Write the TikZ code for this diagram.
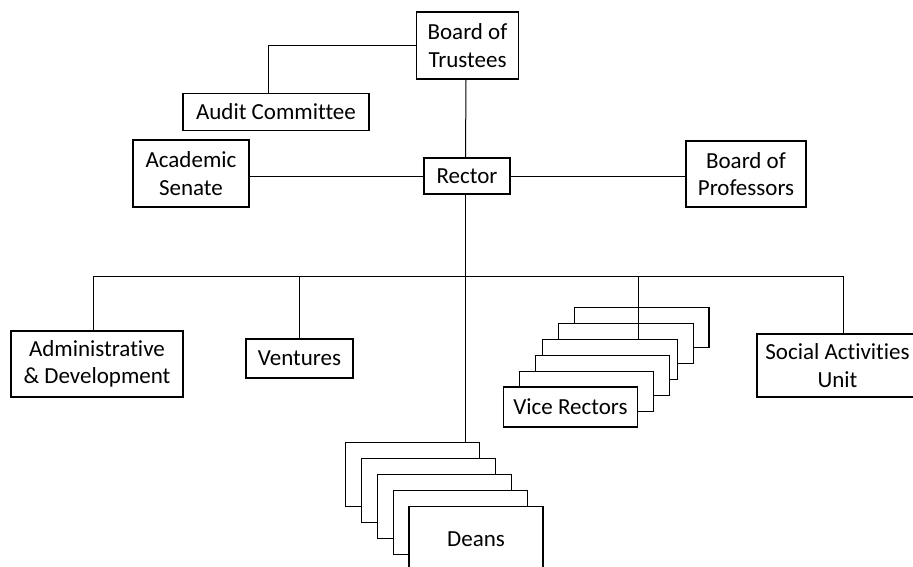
\documentclass[tikz,border=0pt]{standalone}
\usepackage{fontspec}
\setmainfont{Carlito}[Ligatures={NoCommon}]
\usepackage{tikz}
\usetikzlibrary{positioning}

\begin{document}
\begin{tikzpicture}[x=1pt,y=-1pt,line width=1pt,
                    every node/.style={font=\fontsize{23}{27.5}\selectfont}]
  \tikzstyle{box}=[draw,fill=white,align=center,inner sep=0pt,line width=1.2pt]

  \useasboundingbox (0,0) rectangle (913,566);

  \node[box,minimum width=102,minimum height=67] (trustees) at (467.5,45.5) {Board of\\Trustees};
  \node[box,minimum width=186,minimum height=37] (audit) at (276,112) {Audit Committee};
  \node[box,minimum width=86,minimum height=36] (rector) at (467,176) {Rector};
  \node[box,minimum width=116,minimum height=67] (senate) at (191,173.5) {Academic\\Senate};
  \node[box,minimum width=120,minimum height=66] (professors) at (746,174) {Board of\\Professors};

  \node[box,minimum width=172,minimum height=66] (admin) at (97,364) {Administrative\\\& Development};
  \node[box,minimum width=107,minimum height=39] (ventures) at (299.5,358.5) {Ventures};
  \node[box,minimum width=161,minimum height=63] (social) at (837.5,365.5) {Social Activities\\Unit};

  % stacked vice rectors
  \foreach \i/\x/\y in {1/641.7/327.7, 2/626/343.3, 3/610/359.3, 4/602.5/375.3, 5/586.5/391.2}
    \node[box,minimum width=134.5,minimum height=40] (vr\i) at (\x,\y) {};
  \node[box,minimum width=134.5,minimum height=40] (vr6) at (570.5,407) {Vice Rectors};

  % stacked deans
  \foreach \i in {1,...,4}
    \node[box,minimum width=134,minimum height=64] (d\i) at ({412.7+15.8*(\i-1)},{474.7+16*(\i-1)}) {};
  \node[box,minimum width=134,minimum height=64] (d5) at (476,538.7) {Deans};

  \coordinate (busL) at (93,276);
  \coordinate (busR) at (843,276);

  \draw (trustees.west) -| ([xshift=-8]audit.north);
  \draw ([xshift=-1.5]trustees.south) -- ([xshift=-1.5]rector.north);
  \draw (senate.east |- rector.west) -- (rector.west);
  \draw (rector.east) -- (professors.west |- rector.east);
  \draw ([xshift=-1.5]rector.south) -- ([xshift=-1.5]rector.south |- d1.north);
  \draw (busL) -- (busR);
  \draw (busL) -- (busL |- admin.north);
  \draw (ventures.north |- busL) -- (ventures.north);
  \draw (vr6.east |- busL) -- (vr6.east |- vr3.north);
  \draw (busR) -- (busR |- social.north);
\end{tikzpicture}
\end{document}
